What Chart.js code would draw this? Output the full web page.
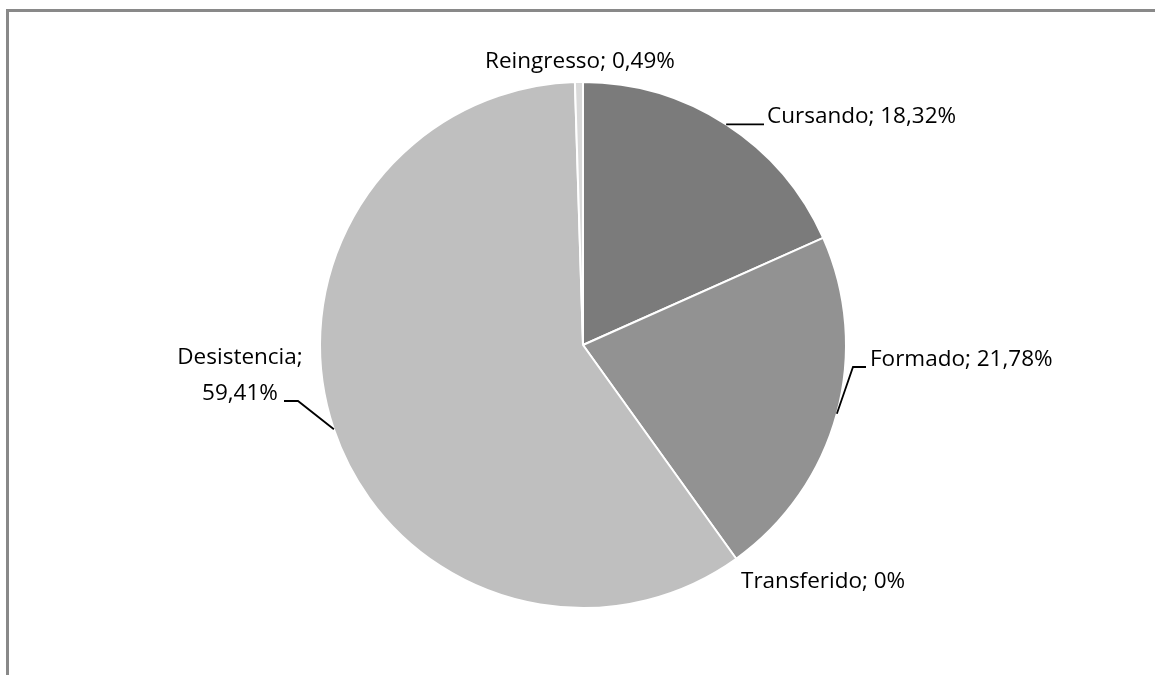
<!DOCTYPE html>
<html>
<head>
<meta charset="utf-8">
<script src="https://cdn.jsdelivr.net/npm/chart.js@4"></script>
<style>
	body { margin: 0; background: #fff; }
	#wrap { position: relative; width: 1155px; height: 675px; overflow: hidden; }
	#frame { position: absolute; left: 6px; top: 9px; width: 1200px; height: 700px; border-top: 3px solid #898989; border-left: 3px solid #898989; }
</style>
</head>
<body>
<div id="wrap">
	<div id="frame"></div>
	<canvas id="myChartPie"></canvas>
</div>
<script>
var categories = ['Cursando', 'Formado', 'Transferido', 'Desistencia', 'Reingresso'];
var percentages = [18.32, 21.78, 0, 59.41, 0.49];
var sliceColors = ['#7b7b7b', '#929292', '#a6a6a6', '#bfbfbf', '#d9d9d9'];

// where each label sits, and the bend points of its leader line (first point is the slice edge)
var labelLayout = [
	{ x: 767, y: 117, align: 'left', leader: [[764, 0]] },
	{ x: 870, y: 360, align: 'left', leader: [[853, 367], [866, 367]] },
	{ x: 741, y: 582, align: 'left', leader: null },
	{ x: 240, y: 358, align: 'center', split: true, leader: [[298, 401], [284, 401]] },
	{ x: 580, y: 62, align: 'center', leader: null }
];

function pctText(v) {
	return String(v).replace('.', ',') + '%';
}

var labelPlugin = {
	id: 'pieLabels',
	afterDatasetsDraw: function (chart) {
		var ctx = chart.ctx;
		var arcs = chart.getDatasetMeta(0).data;
		ctx.save();
		ctx.font = '22.5px "Open Sans"';
		ctx.fillStyle = '#000';
		ctx.strokeStyle = '#000';
		ctx.lineWidth = 1.8;
		ctx.textBaseline = 'middle';
		arcs.forEach(function (arc, i) {
			var lay = labelLayout[i];
			if (lay.leader) {
				var mid = (arc.startAngle + arc.endAngle) / 2;
				var ex = arc.x + arc.outerRadius * Math.cos(mid);
				var ey = arc.y + arc.outerRadius * Math.sin(mid);
				ctx.beginPath();
				ctx.moveTo(ex, ey);
				lay.leader.forEach(function (p) {
					ctx.lineTo(p[0], p[1] || ey);
				});
				ctx.stroke();
			}
			ctx.textAlign = lay.align;
			if (lay.split) {
				ctx.fillText(categories[i] + ';', lay.x, lay.y);
				ctx.fillText(pctText(percentages[i]), lay.x, lay.y + 36);
			} else {
				ctx.fillText(categories[i] + '; ' + pctText(percentages[i]), lay.x, lay.y);
			}
		});
		ctx.restore();
	}
};

var ctx = document.getElementById('myChartPie').getContext('2d');
new Chart(ctx, {
	type: 'pie',
	data: {
		labels: categories,
		datasets: [{
			data: percentages,
			backgroundColor: sliceColors,
			borderColor: '#ffffff',
			borderWidth: 2
		}]
	},
	options: {
		responsive: true,
		maintainAspectRatio: false,
		animation: false,
		layout: { padding: { left: 319, right: 308, top: 81, bottom: 66 } },
		plugins: {
			legend: { display: false },
			tooltip: { enabled: false }
		}
	},
	plugins: [labelPlugin]
});
</script>
</body>
</html>
